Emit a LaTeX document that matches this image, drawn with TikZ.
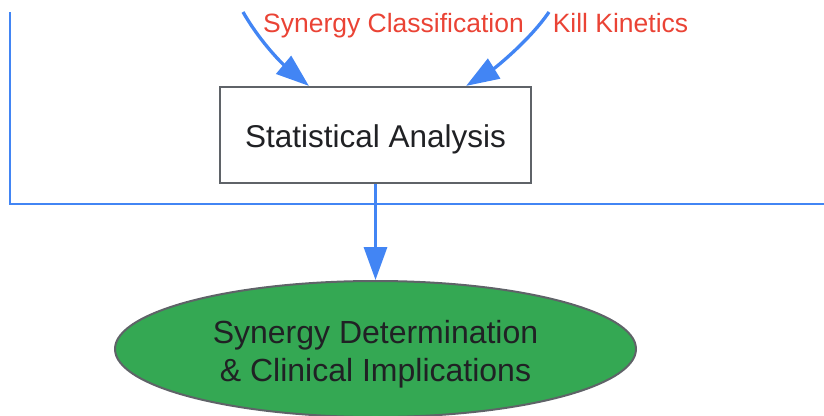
\documentclass[tikz,border=0pt]{standalone}
\usepackage{fontspec}
\setmainfont{Liberation Sans}
\usetikzlibrary{arrows.meta,shapes.geometric}
\definecolor{gblue}{HTML}{4285F4}
\definecolor{gred}{HTML}{EA4335}
\definecolor{ggreen}{HTML}{34A853}
\definecolor{gtext}{HTML}{202124}
\definecolor{ggray}{HTML}{5F6368}
\begin{document}
\begin{tikzpicture}[x=1pt,y=-1pt,
  flow/.style={draw=gblue,line width=3.3pt,-{Triangle[length=33pt,width=23pt]}},
  cluster/.style={draw=gblue,line width=2.8pt},
  box/.style={draw=ggray,line width=2.2pt,fill=white,minimum width=311pt,minimum height=96pt,
    text=gtext,font=\fontsize{31.5}{37}\selectfont,inner sep=0pt,text height=24pt,text depth=0pt},
  ell/.style={ellipse,draw=ggray,line width=2pt,fill=ggreen,minimum width=521pt,minimum height=136pt,
    text=gtext,font=\fontsize{32}{37.7}\selectfont,align=center,inner sep=0pt,
    text height=64pt,text depth=0pt},
  lbl/.style={text=gred,font=\fontsize{26.5}{30}\selectfont,anchor=base,inner sep=0pt}]
\useasboundingbox (0,0) rectangle (824,415);
\clip (0,0) rectangle (824,415);
\draw[cluster] (10,12) |- (824,204);
\node[box] (sa) at (375.5,135) {Statistical Analysis};
\node[ell] (sd) at (375.5,349) {Synergy Determination\\\& Clinical Implications};
\coordinate (s1) at (243,12);
\coordinate (s2) at (549,12);
\node[lbl] (l1) at (393.5,32) {Synergy Classification};
\node[lbl] (l2) at (620.5,32) {Kill Kinetics};
\draw[flow] (s1) .. controls (262,45) and (285,66) .. ([xshift=90pt]sa.north west);
\draw[flow] (s2) .. controls (530,40) and (495,68) .. ([xshift=-66pt]sa.north east);
\draw[flow] (sa.south) -- (sd.north);
\end{tikzpicture}
\end{document}
